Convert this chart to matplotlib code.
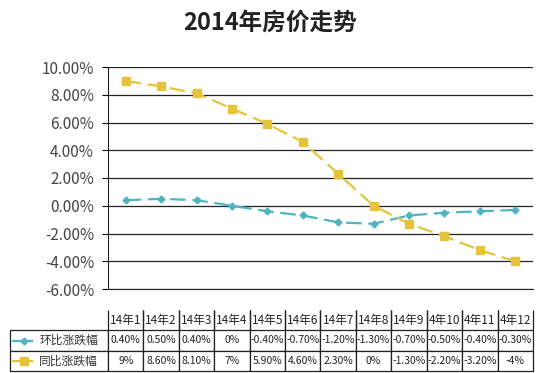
import matplotlib
matplotlib.use("Agg")
import matplotlib.pyplot as plt
from matplotlib.ticker import FuncFormatter

plt.rcParams['font.family'] = ['Noto Sans CJK SC', 'DejaVu Sans']

# 2014 monthly house price change (%)
months = ["14年1", "14年2", "14年3", "14年4", "14年5", "14年6",
          "14年7", "14年8", "14年9", "4年10", "4年11", "4年12"]
mom = [0.4, 0.5, 0.4, 0.0, -0.4, -0.7, -1.2, -1.3, -0.7, -0.5, -0.4, -0.3]
yoy = [9.0, 8.6, 8.1, 7.0, 5.9, 4.6, 2.3, 0.0, -1.3, -2.2, -3.2, -4.0]
series_names = ["环比涨跌幅", "同比涨跌幅"]

blue = "#4fb3c0"
yellow = "#e6c33c"


def excel_fmt(v):
    if float(v).is_integer():
        return f"{v:g}%"
    return f"{v:.2f}%"


fig = plt.figure(figsize=(5.5, 3.73), dpi=100)
ax = fig.add_axes([108 / 550, 1 - 289 / 373, 425 / 550, 222 / 373])

x = range(len(months))
ax.plot(x, mom, color=blue, lw=1.6, dashes=(7, 3), marker="D", ms=3.5,
        mec=blue, mfc=blue, zorder=3)
ax.plot(x, yoy, color=yellow, lw=1.6, dashes=(7, 3), marker="s", ms=5.5,
        mec=yellow, mfc=yellow, zorder=3)

ax.set_xlim(-0.5, len(months) - 0.5)
ax.set_ylim(-6, 10)
ax.set_yticks(range(-6, 11, 2))
ax.yaxis.set_major_formatter(FuncFormatter(lambda v, p: f"{v:.2f}%"))
ax.tick_params(axis="y", labelsize=11, labelcolor="#444444", length=4,
               width=0.8, pad=6)
ax.tick_params(axis="x", bottom=False, labelbottom=False)
ax.grid(axis="y", color="#222222", lw=0.9)
for s in ["top", "right"]:
    ax.spines[s].set_visible(False)
ax.spines["left"].set_color("#222222")
ax.spines["bottom"].set_color("#222222")

# data table: first column holds the series names
cell_text = [[name] + [excel_fmt(v) for v in vals]
             for name, vals in zip(series_names, [mom, yoy])]
col_w = [98] + [425 / len(months)] * len(months)
tab = ax.table(cellText=cell_text, colLabels=[""] + months, colWidths=col_w,
               cellLoc="center", colLoc="center",
               bbox=[(10 - 108) / 425, (289 - 371) / 222, 523 / 425, 61 / 222])
tab.auto_set_font_size(False)
for (r, c), cell in tab.get_celld().items():
    cell.set_linewidth(0.9)
    cell.set_edgecolor("#222222")
    t = cell.get_text()
    t.set_fontsize(7.5)
    t.set_color("#222222")
    if r == 0:
        cell.visible_edges = "" if c == 0 else "LR"
        t.set_fontsize(8.5)
    elif c == 0:
        t.set_fontsize(8.5)
        t.set_color("#333333")
        t.set_horizontalalignment("right")
        cell._loc = "right"

# legend keys inside the series name cells
row_h = 61 / 222 / 3
for i, (col, mk, ms) in enumerate([(blue, "D", 3.5), (yellow, "s", 5.5)]):
    yk = (289 - 371) / 222 + row_h * (1.5 - i)
    ax.plot([(13 - 108) / 425, (32 - 108) / 425], [yk, yk], color=col, lw=1.6,
            transform=ax.transAxes, clip_on=False)
    ax.plot([(24 - 108) / 425], [yk], color=col, marker=mk, ms=ms,
            transform=ax.transAxes, clip_on=False)

fig.text(270 / 550, 1 - 23 / 373, "2014年房价走势", ha="center", va="center",
         fontsize=17, fontweight="bold", color="#222222")

fig.savefig("out.png", dpi=100)
